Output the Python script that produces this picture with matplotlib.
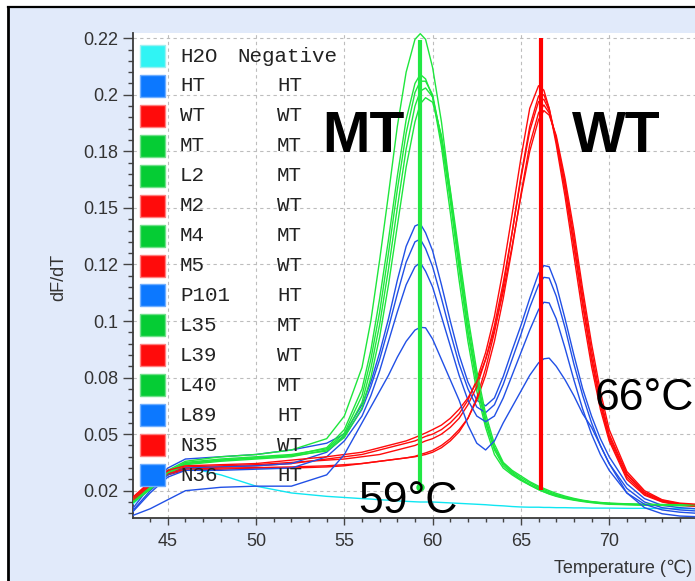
import matplotlib
matplotlib.use('Agg')
import matplotlib.pyplot as plt
from matplotlib.patches import Rectangle
from matplotlib.ticker import FixedLocator, FixedFormatter, MultipleLocator
import matplotlib.lines as mlines

plt.rcParams['font.family'] = ['Liberation Sans', 'DejaVu Sans']

# ---------------- data ----------------
temperature = [43, 44, 45, 46, 48, 50, 52, 54, 55, 56, 56.5, 57, 57.5, 58, 58.5, 59, 59.3, 59.6,
               60, 60.5, 61, 61.5, 62, 62.5, 63, 63.5, 64, 64.5, 65, 65.5, 66, 66.3, 66.6,
               67, 67.5, 68, 68.5, 69, 69.5, 70, 71, 72, 73, 74, 75]

h2o = [0.014, 0.021, 0.027, 0.0305, 0.027, 0.022, 0.019, 0.0175, 0.017, 0.0165, 0.0163, 0.016, 0.0158,
       0.0155, 0.0153, 0.0151, 0.015, 0.015, 0.015, 0.0148, 0.0146, 0.0144, 0.0142, 0.014, 0.0138,
       0.0135, 0.0133, 0.013, 0.0128, 0.0127, 0.0127, 0.0126, 0.0126, 0.0125, 0.0125, 0.0124, 0.0124,
       0.0123, 0.0123, 0.0123, 0.0122, 0.0122, 0.0121, 0.0121, 0.012]

# blue (HT)
ht = [0.012, 0.022, 0.030, 0.034, 0.035, 0.036, 0.038, 0.041,
      0.045, 0.058, 0.068, 0.081, 0.096, 0.113, 0.128, 0.137, 0.138, 0.134, 0.126, 0.111, 0.095, 0.080,
      0.068, 0.060, 0.0575, 0.061, 0.0705, 0.082, 0.093, 0.105, 0.116, 0.1195, 0.119,
      0.111, 0.096, 0.080, 0.065, 0.053, 0.043, 0.035, 0.023, 0.0165, 0.0135, 0.0125, 0.012]
p101 = [0.011, 0.020, 0.027, 0.030, 0.0305, 0.031, 0.032, 0.037,
        0.044, 0.056, 0.066, 0.078, 0.092, 0.107, 0.121, 0.130, 0.1312, 0.127, 0.119, 0.105, 0.090, 0.076,
        0.065, 0.057, 0.0545, 0.058, 0.067, 0.078, 0.089, 0.101, 0.111, 0.1143, 0.114,
        0.106, 0.092, 0.076, 0.062, 0.050, 0.040, 0.032, 0.021, 0.015, 0.0125, 0.0115, 0.011]
l89 = [0.0105, 0.019, 0.026, 0.029, 0.029, 0.0295, 0.030, 0.035,
       0.042, 0.053, 0.062, 0.073, 0.086, 0.099, 0.111, 0.119, 0.1208, 0.117, 0.110, 0.097, 0.084, 0.071,
       0.060, 0.053, 0.0505, 0.053, 0.061, 0.071, 0.081, 0.091, 0.100, 0.1033, 0.103,
       0.096, 0.083, 0.069, 0.056, 0.045, 0.036, 0.029, 0.019, 0.014, 0.0115, 0.0105, 0.010]
n36 = [0.009, 0.012, 0.016, 0.020, 0.0215, 0.022, 0.022, 0.027,
       0.036, 0.050, 0.057, 0.064, 0.071, 0.079, 0.086, 0.091, 0.0922, 0.092, 0.087, 0.078, 0.069, 0.060,
       0.049, 0.041, 0.038, 0.042, 0.050, 0.057, 0.064, 0.071, 0.0765, 0.0783, 0.0786,
       0.075, 0.069, 0.062, 0.054, 0.048, 0.040, 0.032, 0.019, 0.0125, 0.0098, 0.0088, 0.0085]

# green (MT)
mt = [0.016, 0.022, 0.029, 0.033, 0.035, 0.036, 0.038, 0.043,
      0.053, 0.0745, 0.095, 0.122, 0.151, 0.181, 0.205, 0.2195, 0.222, 0.2195, 0.207, 0.183, 0.152,
      0.120, 0.090, 0.070, 0.050, 0.039, 0.032,
      0.028, 0.025, 0.0225, 0.0205, 0.0195, 0.0185, 0.0175, 0.0165, 0.0158, 0.0152, 0.0147, 0.0143,
      0.014, 0.0138, 0.0136, 0.0135, 0.0134, 0.0134]
l2 = [0.015, 0.021, 0.028, 0.032, 0.0335, 0.0345, 0.0355, 0.039,
      0.047, 0.065, 0.082, 0.105, 0.131, 0.159, 0.184, 0.200, 0.204, 0.202, 0.194, 0.172, 0.143,
      0.113, 0.086, 0.064, 0.048, 0.036, 0.030,
      0.027, 0.0245, 0.0225, 0.0205, 0.0195, 0.0187, 0.0177, 0.0168, 0.016, 0.0154, 0.0149, 0.0145,
      0.0142, 0.0139, 0.0137, 0.0136, 0.0135, 0.0135]
m4 = [0.0155, 0.0215, 0.0285, 0.0325, 0.034, 0.035, 0.036, 0.0385,
      0.0455, 0.062, 0.078, 0.099, 0.125, 0.153, 0.178, 0.196, 0.201, 0.201, 0.195, 0.175, 0.148,
      0.118, 0.090, 0.067, 0.050, 0.038, 0.031,
      0.0275, 0.025, 0.0228, 0.021, 0.020, 0.019, 0.018, 0.017, 0.0162, 0.0155, 0.015, 0.0146,
      0.0143, 0.014, 0.0138, 0.0137, 0.0136, 0.0136]
l35 = [0.0145, 0.0205, 0.0275, 0.0315, 0.033, 0.034, 0.035, 0.038,
       0.0445, 0.059, 0.074, 0.0935, 0.118, 0.145, 0.171, 0.190, 0.1966, 0.198, 0.194, 0.176, 0.151,
       0.122, 0.094, 0.070, 0.052, 0.039, 0.032,
       0.0285, 0.0258, 0.0235, 0.0215, 0.0205, 0.0195, 0.0183, 0.0172, 0.0163, 0.0156, 0.015, 0.0147,
       0.0144, 0.0141, 0.0139, 0.0138, 0.0137, 0.0137]
l40 = [0.015, 0.021, 0.028, 0.032, 0.0335, 0.0345, 0.0355, 0.0375,
       0.0435, 0.0565, 0.070, 0.088, 0.111, 0.137, 0.163, 0.183, 0.191, 0.1937, 0.1917, 0.177, 0.153,
       0.125, 0.097, 0.073, 0.054, 0.0406, 0.0325,
       0.029, 0.0265, 0.024, 0.022, 0.021, 0.020, 0.0188, 0.0176, 0.0166, 0.0158, 0.0152, 0.0148,
       0.0145, 0.0142, 0.014, 0.0139, 0.0138, 0.0138]

# red (WT)
wt = [0.016, 0.023, 0.028, 0.030, 0.0305, 0.031, 0.032, 0.034,
      0.035, 0.036, 0.037, 0.038, 0.039, 0.040, 0.041, 0.042, 0.043, 0.044, 0.045, 0.047, 0.050, 0.054,
      0.060, 0.069, 0.081, 0.097, 0.118, 0.142, 0.167, 0.189, 0.199, 0.197, 0.189, 0.173, 0.150, 0.124,
      0.098, 0.075, 0.056, 0.042, 0.025, 0.018, 0.015, 0.0135, 0.013]
m2 = [0.015, 0.022, 0.027, 0.029, 0.0295, 0.030, 0.030, 0.0305,
      0.031, 0.032, 0.0325, 0.033, 0.0335, 0.034, 0.0345, 0.035, 0.0355, 0.036, 0.037, 0.039, 0.042, 0.046,
      0.052, 0.061, 0.074, 0.090, 0.110, 0.134, 0.159, 0.181, 0.1945, 0.195, 0.189, 0.175, 0.153, 0.128,
      0.102, 0.078, 0.058, 0.043, 0.026, 0.0185, 0.0152, 0.0137, 0.0132]
m5 = [0.0165, 0.0235, 0.0285, 0.0305, 0.031, 0.0315, 0.0325, 0.0335,
      0.034, 0.035, 0.0355, 0.036, 0.037, 0.038, 0.039, 0.040, 0.041, 0.042, 0.043, 0.045, 0.048, 0.052,
      0.058, 0.066, 0.078, 0.093, 0.112, 0.134, 0.158, 0.179, 0.192, 0.193, 0.188, 0.175, 0.154, 0.129,
      0.103, 0.079, 0.059, 0.044, 0.027, 0.019, 0.0155, 0.014, 0.0135]
l39 = [0.0155, 0.0225, 0.0275, 0.0295, 0.030, 0.0302, 0.0305, 0.031,
       0.0315, 0.032, 0.0325, 0.033, 0.0335, 0.034, 0.0345, 0.0352, 0.036, 0.0367, 0.0378, 0.040, 0.043,
       0.047, 0.052, 0.060, 0.071, 0.086, 0.105, 0.127, 0.151, 0.173, 0.187, 0.1905, 0.187, 0.176, 0.156,
       0.132, 0.106, 0.082, 0.061, 0.045, 0.0275, 0.0193, 0.0158, 0.0142, 0.0137]
n35 = [0.017, 0.024, 0.029, 0.031, 0.0315, 0.032, 0.0335, 0.035,
       0.036, 0.037, 0.038, 0.039, 0.040, 0.041, 0.042, 0.0435, 0.0445, 0.0455, 0.047, 0.049, 0.052, 0.056,
       0.061, 0.068, 0.078, 0.091, 0.108, 0.128, 0.150, 0.170, 0.184, 0.188, 0.186, 0.177, 0.158, 0.135,
       0.109, 0.085, 0.064, 0.047, 0.0285, 0.020, 0.016, 0.0145, 0.014]

samples = ['H2O', 'HT', 'WT', 'MT', 'L2', 'M2', 'M4', 'M5', 'P101', 'L35', 'L39', 'L40', 'L89', 'N35', 'N36']
genotypes = ['Negative', 'HT', 'WT', 'MT', 'MT', 'WT', 'MT', 'WT', 'HT', 'MT', 'WT', 'MT', 'HT', 'WT', 'HT']
series = [h2o, ht, wt, mt, l2, m2, m4, m5, p101, l35, l39, l40, l89, n35, n36]

ytick_labels = ['0.02', '0.05', '0.08', '0.1', '0.12', '0.15', '0.18', '0.2', '0.22']
xtick_values = [45, 50, 55, 60, 65, 70]

mt_peak_temp = 59.3
wt_peak_temp = 66.14

# ---------------- styling ----------------
curve_colors = {'Negative': '#10E6F2', 'HT': '#2150E6', 'WT': '#FF0A0A', 'MT': '#1EE63C'}
box_colors = {'Negative': '#30F4F4', 'HT': '#0C78FF', 'WT': '#FF0B0B', 'MT': '#05CC34'}
box_edges = {'Negative': '#9EF0F0', 'HT': '#6FAEFF', 'WT': '#FF8080', 'MT': '#70E08A'}

W, H = 695, 581
fig = plt.figure(figsize=(W / 100, H / 100), dpi=100)
fig.patch.set_facecolor('white')


def fx(px):
    return px / W


def fy(py):
    return 1 - py / H


fig.add_artist(Rectangle((fx(9), 0), 1 - fx(9), fy(8), transform=fig.transFigure,
                         facecolor='#E1EAFA', edgecolor='none', zorder=0))
fig.add_artist(mlines.Line2D([fx(8), 1], [fy(7), fy(7)], transform=fig.transFigure,
                             color='black', lw=1.6, zorder=1))
fig.add_artist(mlines.Line2D([fx(8), fx(8)], [0, fy(7)], transform=fig.transFigure,
                             color='black', lw=2.0, zorder=1))

ax_left, ax_top, ax_bottom = 133, 33, 518
ax = fig.add_axes([fx(ax_left), fy(ax_bottom), 1 - fx(ax_left), (ax_bottom - ax_top) / H])
ax.set_facecolor('white')

ax.set_xlim(43.03, 74.86)
ax.set_ylim(0.00793, 0.2223)

for s in ['top', 'right']:
    ax.spines[s].set_visible(False)
for s in ['left', 'bottom']:
    ax.spines[s].set_color('#3A3A3A')
    ax.spines[s].set_linewidth(1.3)

ytick_pos = [0.02 + 0.025 * k for k in range(len(ytick_labels))]
ax.yaxis.set_major_locator(FixedLocator(ytick_pos))
ax.yaxis.set_major_formatter(FixedFormatter(ytick_labels))
ax.yaxis.set_minor_locator(MultipleLocator(0.005))
ax.xaxis.set_major_locator(FixedLocator(xtick_values))
ax.xaxis.set_minor_locator(MultipleLocator(1))

ax.tick_params(axis='y', which='major', length=7, width=1, color='#444444', pad=3.5,
               labelsize=13, labelcolor='#333333')
ax.tick_params(axis='y', which='minor', length=3.6, width=1, color='#444444')
ax.tick_params(axis='x', which='major', length=5, width=1, color='#444444', pad=6,
               labelsize=13, labelcolor='#333333')
ax.tick_params(axis='x', which='minor', length=3, width=1, color='#444444')

ax.set_axisbelow(True)
ax.grid(True, which='major', linestyle=(0, (3, 3)), color='#BDBDBD', linewidth=0.8)

# curves
for name, geno, vals in zip(samples, genotypes, series):
    ax.plot(temperature, vals, color=curve_colors[geno], lw=1.0, zorder=3)

# Tm markers
ax.plot([mt_peak_temp, mt_peak_temp], [0.0217, 0.2192], color='#22E844', lw=3.0,
        solid_capstyle='butt', zorder=5)
ax.plot([mt_peak_temp], [0.0217], 'o', ms=5, color='#22E844', zorder=5)
ax.plot([wt_peak_temp, wt_peak_temp], [0.0203, 0.2201], color='#FF0000', lw=3.0,
        solid_capstyle='butt', zorder=5)

# annotations
ax.text(53.75, 0.1697, 'MT', fontsize=41, fontweight='bold', ha='left', va='baseline', zorder=6)
ax.text(67.89, 0.1697, 'WT', fontsize=41, fontweight='bold', ha='left', va='baseline', zorder=6)
ax.text(69.2, 0.0557, '66°C', fontsize=32, ha='left', va='baseline', zorder=6, clip_on=False)
ax.text(55.78, 0.0101, '59°C', fontsize=32, ha='left', va='baseline', zorder=6)

# legend table
ax_w = W - ax_left
ax_h = ax_bottom - ax_top
for i, (name, geno) in enumerate(zip(samples, genotypes)):
    yc = 56 + 29.93 * i
    yf = (ax_bottom - yc) / ax_h
    ax.add_patch(Rectangle((7 / ax_w, yf - 11 / ax_h), 25 / ax_w, 22 / ax_h, transform=ax.transAxes,
                           facecolor=box_colors[geno], edgecolor=box_edges[geno], lw=1.0, zorder=7,
                           clip_on=False))
    ax.text(47 / ax_w, yf, name, transform=ax.transAxes, family='Liberation Mono', fontsize=15,
            ha='left', va='center', color='#222222', zorder=7)
    x2 = 104 if geno == 'Negative' else 144
    ax.text(x2 / ax_w, yf, geno, transform=ax.transAxes, family='Liberation Mono', fontsize=15,
            ha='left', va='center', color='#222222', zorder=7)

# axis labels
ax.text((59 - ax_left) / ax_w, (ax_bottom - 277) / ax_h, 'dF/dT', transform=ax.transAxes,
        rotation=90, ha='center', va='center', fontsize=13, color='#333333')
fig.text(fx(692), fy(573), 'Temperature (℃)', ha='right', va='baseline', fontsize=13,
         color='#333333', family=['Liberation Sans', 'DejaVu Sans'])

fig.savefig('out.png', dpi=100, facecolor=fig.get_facecolor())
